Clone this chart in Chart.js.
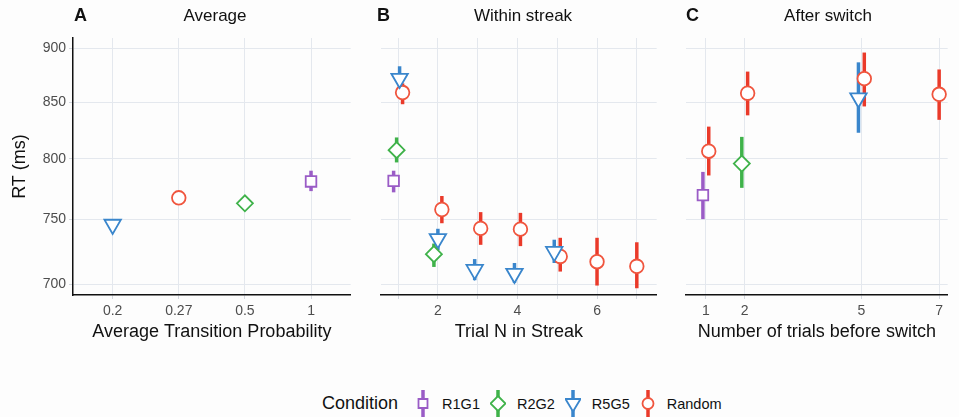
<!DOCTYPE html>
<html>
<head>
<meta charset="utf-8">
<script src="https://cdn.jsdelivr.net/npm/chart.js@4.4.1/dist/chart.umd.min.js"></script>
<style>
body{margin:0;background:#fdfdfd;width:959px;height:417px;overflow:hidden;position:relative;font-family:"Liberation Sans",Arial,sans-serif}
canvas.panel{position:absolute;top:0}
#legend{position:absolute;left:322px;top:390px;height:27px;display:flex;align-items:center;color:#111}
#legend .title{font-size:18px;margin-right:17px}
#legend canvas{margin-right:11px}
#legend .lab{font-size:14.5px;margin-right:10px}
</style>
</head>
<body>
<canvas id="panelA" class="panel" width="362" height="345" style="left:0px"></canvas>
<canvas id="panelB" class="panel" width="302" height="345" style="left:366px"></canvas>
<canvas id="panelC" class="panel" width="287" height="345" style="left:672px"></canvas>
<div id="legend"><span class="title">Condition</span></div>
<script>
/* data */
const conditions = ['R1G1','R2G2','R5G5','Random'];
const yTicks = [700,750,800,850,900];

// A: average RT by average transition probability
const probLabels = ['0.2','0.27','0.5','1'];
const avgProb = {R1G1:4, R2G2:3, R5G5:1, Random:2};   // index into probLabels (1-based)
const avgRT = [781, 763, 746, 767.5];                 // R1G1, R2G2, R5G5, Random
const avgLo = [773, 758, 743, 765];
const avgHi = [790, 768, 749, 770];

// B: within streak
const streakN_R1G1 = [1];
const streakRT_R1G1 = [781.5];
const streakLo_R1G1 = [772];
const streakHi_R1G1 = [790];
const streakN_R2G2 = [1,2];
const streakRT_R2G2 = [807.5,722.8];
const streakLo_R2G2 = [797,713];
const streakHi_R2G2 = [818.5,731];
const streakN_R5G5 = [1,2,3,4,5];
const streakRT_R5G5 = [871.5,734.7,711,708,724.7];
const streakLo_R5G5 = [858,726,703,701,716];
const streakHi_R5G5 = [883,742.6,719,716,734];
const streakN_Random = [1,2,3,4,5,6,7];
const streakRT_Random = [858.6,758,742.9,742.3,721,717,713.5];
const streakLo_Random = [848,747,730,729,709.5,699,697];
const streakHi_Random = [867,769,755.9,755.3,735.5,735.5,732];

// C: after switch
const switchN_R1G1 = [1];
const switchRT_R1G1 = [769.7];
const switchLo_R1G1 = [750.3];
const switchHi_R1G1 = [789];
const switchN_R2G2 = [2];
const switchRT_R2G2 = [796];
const switchLo_R2G2 = [775.7];
const switchHi_R2G2 = [819];
const switchN_R5G5 = [5];
const switchRT_R5G5 = [853.6];
const switchLo_R5G5 = [822.6];
const switchHi_R5G5 = [886.7];
const switchN_Random = [1,2,5,7];
const switchRT_Random = [806.6,858,871.4,857];
const switchLo_Random = [786,838,846,834];
const switchHi_Random = [828,878,896,880];

/* styles */
const FONT = '"Liberation Sans", Arial, sans-serif';
const style = {
  R1G1:   {color:'#9a5cc6', edge:'#9a5cc6', shape:'rect',     radius:7.5, rotation:0},
  R2G2:   {color:'#3fb24a', edge:'#3fb24a', shape:'rectRot',  radius:8,   rotation:0},
  R5G5:   {color:'#3a86cc', edge:'#3a86cc', shape:'triangle', radius:9.5, rotation:180},
  Random: {color:'#ea3a2a', edge:'#f0553e', shape:'circle',   radius:6.8, rotation:0}
};
const gridColor = '#e4e8ee';

function seriesData(xs, rt, lo, hi){
  return xs.map((x,i)=>({n:x, x:x, y:rt[i], lo:lo[i], hi:hi[i]}));
}

// ggplot-like dodge: groups present at the same x are spread across width w
function dodge(seriesList, w){
  const byX = {};
  seriesList.forEach(s=>s.data.forEach(d=>{(byX[d.n]=byX[d.n]||[]).push(s.name);}));
  seriesList.forEach(s=>s.data.forEach(d=>{
    const g = byX[d.n], k = g.length, idx = g.indexOf(s.name);
    d.x = d.n + (idx-(k-1)/2)*(w/k);
  }));
  return seriesList;
}

const errorBars = {
  id:'errorBars',
  beforeDatasetsDraw(chart){
    const ctx = chart.ctx, y = chart.scales.y;
    for (let i = chart.data.datasets.length-1; i >= 0; i--) {
      const ds = chart.data.datasets[i];
      const meta = chart.getDatasetMeta(i);
      ctx.save();
      ctx.strokeStyle = ds.barColor;
      ctx.lineWidth = 3.5;
      ctx.lineCap = 'butt';
      meta.data.forEach((pt,j)=>{
        const d = ds.data[j];
        ctx.beginPath();
        ctx.moveTo(pt.x, y.getPixelForValue(d.lo));
        ctx.lineTo(pt.x, y.getPixelForValue(d.hi));
        ctx.stroke();
      });
      ctx.restore();
    }
  }
};

const panelTitle = {
  id:'panelTitle',
  afterDraw(chart, args, opts){
    const ctx = chart.ctx, a = chart.chartArea;
    ctx.save();
    ctx.fillStyle = '#111';
    ctx.textBaseline = 'middle';
    ctx.textAlign = 'left';
    ctx.font = 'bold 18px ' + FONT;
    ctx.fillText(opts.letter, opts.letterX, 16);
    ctx.textAlign = 'center';
    ctx.font = '17px ' + FONT;
    ctx.fillText(opts.title, a.left + 142, 16);
    ctx.restore();
  }
};

function makePanel(id, p){
  const datasets = p.series.map(s=>{
    const st = style[s.name];
    return {
      label:s.name, data:s.data, barColor:st.color,
      pointStyle:st.shape, pointRadius:st.radius, pointRotation:st.rotation,
      pointBorderWidth:1.8, pointBorderColor:st.edge, pointBackgroundColor:'#ffffff',
      showLine:false
    };
  });
  new Chart(document.getElementById(id), {
    type:'scatter',
    data:{datasets},
    options:{
      responsive:false, animation:false, events:[],
      layout:{padding:{left:p.padL, right:p.padR, top:38, bottom:0}},
      plugins:{legend:{display:false}, tooltip:{enabled:false},
        panelTitle:{letter:p.letter, letterX:p.letterX, title:p.title}},
      scales:{
        x:{
          type:'linear', min:p.xMin, max:p.xMax,
          afterBuildTicks:s=>{s.ticks = p.xTicks.map(v=>({value:v}));},
          afterFit:s=>{s.height = 50;},
          ticks:{callback:p.xLabel, font:{size:14, family:FONT}, color:'#4d4d4d', padding:4, maxRotation:0, autoSkip:false},
          grid:{color:gridColor, lineWidth:1, drawTicks:true, tickLength:4, tickColor:'#d3d7de'},
          border:{color:'#111', width:1.5},
          title:{display:true, text:p.xTitle, font:{size:18, family:FONT}, color:'#111', padding:{top:0, bottom:2}}
        },
        y:{
          type:'logarithmic', min:692, max:910,
          afterBuildTicks:s=>{s.ticks = yTicks.map(v=>({value:v}));},
          afterFit:s=>{s.width = p.yWidth;},
          ticks:{display:p.showY, callback:v=>String(v), font:{size:14, family:FONT}, color:'#4d4d4d', padding:3},
          grid:{color:gridColor, lineWidth:1, drawTicks:p.showY, tickLength:4, tickColor:'#d3d7de'},
          border:{display:p.showY, color:'#111', width:1.5},
          title:{display:p.showY, text:'RT (ms)', font:{size:18, family:FONT}, color:'#111', padding:{top:9, bottom:0}}
        }
      }
    },
    plugins:[errorBars, panelTitle]
  });
}

// panel A
const seriesA = conditions.map((c,i)=>({name:c, data:[{n:avgProb[c], x:avgProb[c], y:avgRT[i], lo:avgLo[i], hi:avgHi[i]}]}));
makePanel('panelA', {
  series:seriesA, padL:0, padR:5, yWidth:73, showY:true,
  xMin:0.4, xMax:4.6, xTicks:[1,2,3,4], xLabel:v=>probLabels[v-1],
  xTitle:'Average Transition Probability', letter:'A', letterX:74, title:'Average'
});

// panel B
const seriesB = dodge([
  {name:'R1G1', data:seriesData(streakN_R1G1, streakRT_R1G1, streakLo_R1G1, streakHi_R1G1)},
  {name:'R2G2', data:seriesData(streakN_R2G2, streakRT_R2G2, streakLo_R2G2, streakHi_R2G2)},
  {name:'R5G5', data:seriesData(streakN_R5G5, streakRT_R5G5, streakLo_R5G5, streakHi_R5G5)},
  {name:'Random', data:seriesData(streakN_Random, streakRT_Random, streakLo_Random, streakHi_Random)}
], 0.3);
makePanel('panelB', {
  series:seriesB, padL:15, padR:4, yWidth:0, showY:false,
  xMin:0.57, xMax:7.5, xTicks:[1,2,3,4,5,6,7], xLabel:v=>(v%2===0 ? String(v) : ''),
  xTitle:'Trial N in Streak', letter:'B', letterX:11, title:'Within streak'
});

// panel C
const seriesC = dodge([
  {name:'R1G1', data:seriesData(switchN_R1G1, switchRT_R1G1, switchLo_R1G1, switchHi_R1G1)},
  {name:'R2G2', data:seriesData(switchN_R2G2, switchRT_R2G2, switchLo_R2G2, switchHi_R2G2)},
  {name:'R5G5', data:seriesData(switchN_R5G5, switchRT_R5G5, switchLo_R5G5, switchHi_R5G5)},
  {name:'Random', data:seriesData(switchN_Random, switchRT_Random, switchLo_Random, switchHi_Random)}
], 0.3);
makePanel('panelC', {
  series:seriesC, padL:14, padR:0, yWidth:0, showY:false,
  xMin:0.49, xMax:7.22, xTicks:[1,2,5,7], xLabel:v=>String(v),
  xTitle:'Number of trials before switch', letter:'C', letterX:14, title:'After switch'
});

/* legend */
function drawKey(ctx, st, cx, cy){
  ctx.strokeStyle = st.color; ctx.lineWidth = 3.5;
  ctx.beginPath(); ctx.moveTo(cx, 0); ctx.lineTo(cx, 27); ctx.stroke();
  ctx.fillStyle = '#fff'; ctx.strokeStyle = st.edge; ctx.lineWidth = 1.8;
  ctx.beginPath();
  if (st.shape === 'circle') ctx.arc(cx, cy, 5.5, 0, Math.PI*2);
  else if (st.shape === 'rect') ctx.rect(cx-4.5, cy-4.5, 9, 9);
  else if (st.shape === 'rectRot') { ctx.moveTo(cx, cy-7.5); ctx.lineTo(cx+7.5, cy); ctx.lineTo(cx, cy+7.5); ctx.lineTo(cx-7.5, cy); ctx.closePath(); }
  else { ctx.moveTo(cx-7.5, cy-4.5); ctx.lineTo(cx+7.5, cy-4.5); ctx.lineTo(cx, cy+8); ctx.closePath(); }
  ctx.fill(); ctx.stroke();
}
const legend = document.getElementById('legend');
conditions.forEach(c=>{
  const cv = document.createElement('canvas');
  cv.width = 16; cv.height = 27;
  legend.appendChild(cv);
  drawKey(cv.getContext('2d'), style[c], 8, 13.5);
  const sp = document.createElement('span');
  sp.className = 'lab'; sp.textContent = c;
  legend.appendChild(sp);
});
</script>
</body>
</html>
